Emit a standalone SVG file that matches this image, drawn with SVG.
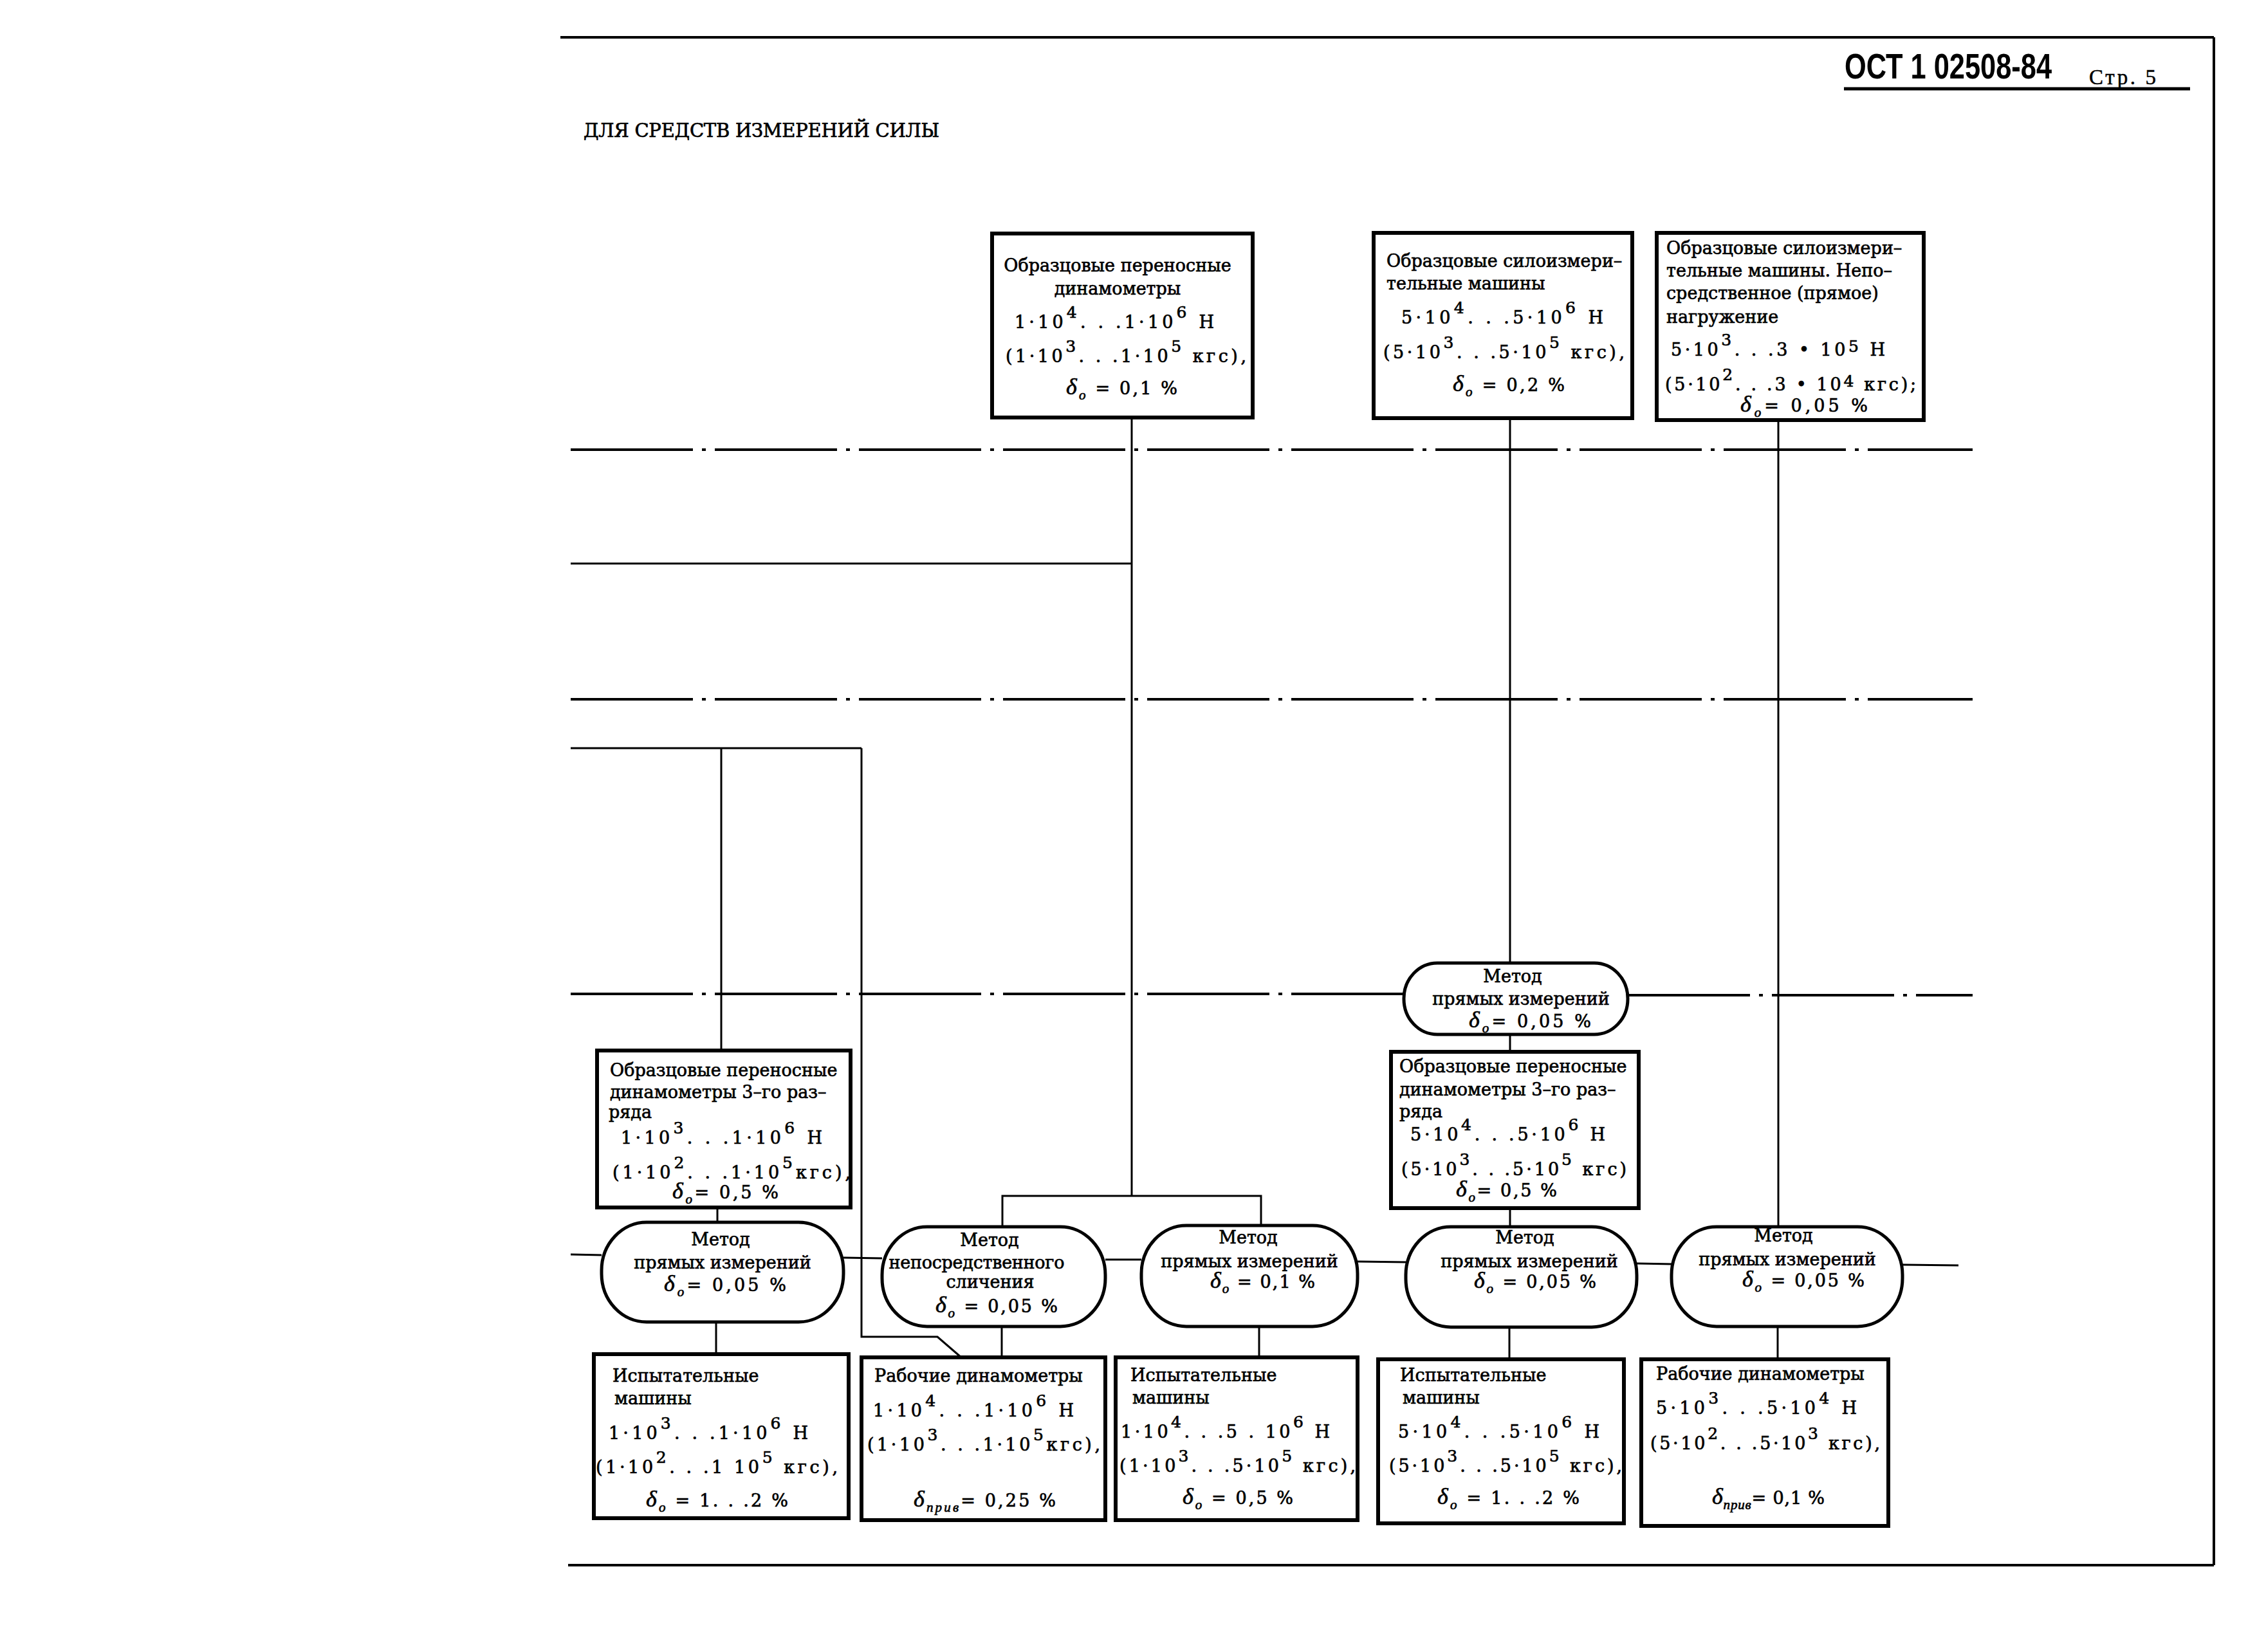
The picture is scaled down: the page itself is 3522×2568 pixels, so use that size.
<svg xmlns="http://www.w3.org/2000/svg" width="3522" height="2568" viewBox="0 0 3522 2568">
<style>
.bx{fill:#fff;stroke:#000;stroke-width:6}
.nd{fill:#fff;stroke:#000;stroke-width:5}
.ln{stroke:#000;stroke-width:3;fill:none}
.fr{stroke:#000;stroke-width:4;fill:none}
.dd{stroke:#000;stroke-width:4;fill:none;stroke-dasharray:190 14 6 14}
text{font-family:"DejaVu Serif","Liberation Serif",serif;font-size:27px;fill:#000;stroke:#000;stroke-width:0.7}
.m{text-anchor:middle}
.sp{font-size:25px}
.dl{font-family:"Liberation Serif",serif;font-style:italic;font-size:36px}
.sb{font-family:"Liberation Serif",serif;font-style:italic;font-size:21px}
</style>
<rect width="3522" height="2568" fill="#fff"/>
<g id="frame">
<line class="fr" x1="871" y1="58" x2="3441" y2="58"/>
<line class="fr" x1="3441" y1="58" x2="3441" y2="2433"/>
<line class="fr" x1="883" y1="2433" x2="3441" y2="2433"/>
<line x1="2866" y1="138" x2="3404" y2="138" stroke="#000" stroke-width="5"/>
<text transform="translate(2867,122) scale(0.775,1)" x="0" y="0" style="font-family:'Liberation Sans',sans-serif;font-weight:bold;font-size:56px;stroke-width:0">ОСТ 1 02508-84</text>
<text x="3247" y="131" style="font-family:'Liberation Serif',serif;font-size:33px;stroke-width:0.5" textLength="104">Стр. 5</text>
<text x="907" y="213" style="font-size:29px" textLength="553">ДЛЯ СРЕДСТВ ИЗМЕРЕНИЙ СИЛЫ</text>
</g>
<g id="connectors">
<line class="dd" x1="887" y1="699" x2="3066" y2="699"/>
<line class="dd" x1="887" y1="1087" x2="3066" y2="1087"/>
<line class="dd" x1="887" y1="1545" x2="2182" y2="1545"/>
<line class="dd" x1="2530" y1="1547" x2="3066" y2="1547"/>
<line class="ln" x1="1759" y1="650" x2="1759" y2="1859"/>
<line class="ln" x1="887" y1="876" x2="1759" y2="876"/>
<polyline class="ln" points="1558,1905 1558,1859 1960,1859 1960,1905"/>
<line class="ln" x1="2347" y1="652" x2="2347" y2="1497"/>
<line class="ln" x1="2347" y1="1608" x2="2347" y2="1635"/>
<line class="ln" x1="2347" y1="1878" x2="2347" y2="1907"/>
<line class="ln" x1="2764" y1="655" x2="2764" y2="1907"/>
<line class="ln" x1="887" y1="1163" x2="1339" y2="1163"/>
<line class="ln" x1="1121" y1="1163" x2="1121" y2="1633"/>
<polyline class="ln" points="1339,1163 1339,2078 1457,2078 1494,2110"/>
<line class="ln" x1="1115" y1="1878" x2="1115" y2="1900"/>
<line class="ln" x1="1113" y1="2055" x2="1113" y2="2105"/>
<line class="ln" x1="1557" y1="2062" x2="1557" y2="2110"/>
<line class="ln" x1="1957" y1="2062" x2="1957" y2="2110"/>
<line class="ln" x1="2346" y1="2063" x2="2346" y2="2113"/>
<line class="ln" x1="2763" y1="2062" x2="2763" y2="2113"/>
<line class="ln" x1="887" y1="1950" x2="935" y2="1951"/>
<line class="ln" x1="1311" y1="1955" x2="1371" y2="1956"/>
<line class="ln" x1="1718" y1="1958" x2="1774" y2="1958"/>
<line class="ln" x1="2110" y1="1961" x2="2185" y2="1962"/>
<line class="ln" x1="2544" y1="1964" x2="2598" y2="1965"/>
<line class="ln" x1="2957" y1="1966" x2="3044" y2="1967"/>
</g>
<g id="boxA">
<rect class="bx" x="1542" y="363" width="405" height="286"/>
<text class="m" x="1737" y="422">Образцовые переносные</text>
<text class="m" x="1737" y="458">динамометры</text>
<text x="1577" y="510" textLength="310">1·10<tspan class="sp" dy="-16">4</tspan><tspan dy="16">. . .1·10</tspan><tspan class="sp" dy="-16">6</tspan><tspan dy="16"> Н</tspan></text>
<text x="1563" y="563" textLength="374">(1·10<tspan class="sp" dy="-16">3</tspan><tspan dy="16">. . .1·10</tspan><tspan class="sp" dy="-16">5</tspan><tspan dy="16"> кгс),</tspan></text>
<text x="1657" y="613" textLength="173"><tspan class="dl">δ</tspan><tspan class="sb" dy="8">o</tspan><tspan dy="-8"> = 0,1 %</tspan></text>
</g>
<g id="boxD">
<rect class="bx" x="2135" y="362" width="402" height="288"/>
<text x="2155" y="415">Образцовые силоизмери–</text>
<text x="2155" y="450">тельные машины</text>
<text x="2178" y="503" textLength="314">5·10<tspan class="sp" dy="-16">4</tspan><tspan dy="16">. . .5·10</tspan><tspan class="sp" dy="-16">6</tspan><tspan dy="16"> Н</tspan></text>
<text x="2150" y="557" textLength="375">(5·10<tspan class="sp" dy="-16">3</tspan><tspan dy="16">. . .5·10</tspan><tspan class="sp" dy="-16">5</tspan><tspan dy="16"> кгс),</tspan></text>
<text x="2258" y="608" textLength="174"><tspan class="dl">δ</tspan><tspan class="sb" dy="8">o</tspan><tspan dy="-8"> = 0,2 %</tspan></text>
</g>
<g id="boxE">
<rect class="bx" x="2575" y="362" width="415" height="291"/>
<text x="2590" y="395">Образцовые силоизмери–</text>
<text x="2590" y="430">тельные машины. Непо–</text>
<text x="2590" y="465">средственное (прямое)</text>
<text x="2590" y="502">нагружение</text>
<text x="2597" y="553" textLength="333">5·10<tspan class="sp" dy="-16">3</tspan><tspan dy="16">. . .3 • 10</tspan><tspan class="sp" dy="-6">5</tspan><tspan dy="6"> Н</tspan></text>
<text x="2588" y="607" textLength="390">(5·10<tspan class="sp" dy="-16">2</tspan><tspan dy="16">. . .3 • 10</tspan><tspan class="sp" dy="-6">4</tspan><tspan dy="6"> кгс);</tspan></text>
<text x="2705" y="640" textLength="198"><tspan class="dl">δ</tspan><tspan class="sb" dy="8">o</tspan><tspan dy="-8">= 0,05 %</tspan></text>
</g>
<g id="nodeTop">
<rect class="nd" x="2182" y="1497" width="348" height="111" rx="52" ry="55"/>
<text class="m" x="2351" y="1527">Метод</text>
<text class="m" x="2364" y="1562">прямых измерений</text>
<text x="2283" y="1597" textLength="190"><tspan class="dl">δ</tspan><tspan class="sb" dy="8">o</tspan><tspan dy="-8">= 0,05 %</tspan></text>
</g>
<g id="boxB">
<rect class="bx" x="928" y="1633" width="394" height="244"/>
<text x="948" y="1673">Образцовые переносные</text>
<text x="948" y="1707">динамометры 3–го раз–</text>
<text x="946" y="1738">ряда</text>
<text x="965" y="1778" textLength="313">1·10<tspan class="sp" dy="-16">3</tspan><tspan dy="16">. . .1·10</tspan><tspan class="sp" dy="-16">6</tspan><tspan dy="16"> Н</tspan></text>
<text x="952" y="1832" textLength="370">(1·10<tspan class="sp" dy="-16">2</tspan><tspan dy="16">. . .1·10</tspan><tspan class="sp" dy="-16">5</tspan><tspan dy="16">кгс),</tspan></text>
<text x="1045" y="1863" textLength="165"><tspan class="dl">δ</tspan><tspan class="sb" dy="8">o</tspan><tspan dy="-8">= 0,5 %</tspan></text>
</g>
<g id="boxC">
<rect class="bx" x="2162" y="1635" width="385" height="243"/>
<text x="2175" y="1667">Образцовые переносные</text>
<text x="2175" y="1703">динамометры 3–го раз–</text>
<text x="2175" y="1737">ряда</text>
<text x="2192" y="1773" textLength="303">5·10<tspan class="sp" dy="-16">4</tspan><tspan dy="16">. . .5·10</tspan><tspan class="sp" dy="-16">6</tspan><tspan dy="16"> Н</tspan></text>
<text x="2178" y="1827" textLength="350">(5·10<tspan class="sp" dy="-16">3</tspan><tspan dy="16">. . .5·10</tspan><tspan class="sp" dy="-16">5</tspan><tspan dy="16"> кгс)</tspan></text>
<text x="2263" y="1860" textLength="157"><tspan class="dl">δ</tspan><tspan class="sb" dy="8">o</tspan><tspan dy="-8">= 0,5 %</tspan></text>
</g>
<g id="node1">
<rect class="nd" x="935" y="1900" width="376" height="155" rx="70" ry="75"/>
<text class="m" x="1120" y="1936">Метод</text>
<text class="m" x="1123" y="1972">прямых измерений</text>
<text x="1032" y="2007" textLength="190"><tspan class="dl">δ</tspan><tspan class="sb" dy="8">o</tspan><tspan dy="-8">= 0,05 %</tspan></text>
</g>
<g id="node2">
<rect class="nd" x="1371" y="1907" width="347" height="155" rx="70" ry="75"/>
<text class="m" x="1538" y="1937">Метод</text>
<text class="m" x="1518" y="1972" textLength="273">непосредственного</text>
<text class="m" x="1539" y="2002">сличения</text>
<text x="1454" y="2040" textLength="190"><tspan class="dl">δ</tspan><tspan class="sb" dy="8">o</tspan><tspan dy="-8"> = 0,05 %</tspan></text>
</g>
<g id="node3">
<rect class="nd" x="1774" y="1905" width="336" height="157" rx="70" ry="75"/>
<text class="m" x="1940" y="1933">Метод</text>
<text class="m" x="1942" y="1970">прямых измерений</text>
<text x="1881" y="2002" textLength="163"><tspan class="dl">δ</tspan><tspan class="sb" dy="8">o</tspan><tspan dy="-8"> = 0,1 %</tspan></text>
</g>
<g id="node4">
<rect class="nd" x="2185" y="1907" width="359" height="156" rx="70" ry="75"/>
<text class="m" x="2370" y="1933">Метод</text>
<text class="m" x="2377" y="1970">прямых измерений</text>
<text x="2291" y="2002" textLength="190"><tspan class="dl">δ</tspan><tspan class="sb" dy="8">o</tspan><tspan dy="-8"> = 0,05 %</tspan></text>
</g>
<g id="node5">
<rect class="nd" x="2598" y="1907" width="359" height="155" rx="70" ry="75"/>
<text class="m" x="2772" y="1930">Метод</text>
<text class="m" x="2778" y="1967">прямых измерений</text>
<text x="2708" y="2000" textLength="190"><tspan class="dl">δ</tspan><tspan class="sb" dy="8">o</tspan><tspan dy="-8"> = 0,05 %</tspan></text>
</g>
<g id="boxF">
<rect class="bx" x="923" y="2105" width="396" height="255"/>
<text x="952" y="2148">Испытательные</text>
<text x="955" y="2183">машины</text>
<text x="946" y="2237" textLength="310">1·10<tspan class="sp" dy="-16">3</tspan><tspan dy="16">. . .1·10</tspan><tspan class="sp" dy="-16">6</tspan><tspan dy="16"> Н</tspan></text>
<text x="926" y="2290" textLength="376">(1·10<tspan class="sp" dy="-16">2</tspan><tspan dy="16">. . .1 10</tspan><tspan class="sp" dy="-16">5</tspan><tspan dy="16"> кгс),</tspan></text>
<text x="1004" y="2342" textLength="221"><tspan class="dl">δ</tspan><tspan class="sb" dy="8">o</tspan><tspan dy="-8"> = 1. . .2 %</tspan></text>
</g>
<g id="boxG">
<rect class="bx" x="1339" y="2110" width="379" height="253"/>
<text x="1359" y="2148">Рабочие динамометры</text>
<text x="1357" y="2202" textLength="312">1·10<tspan class="sp" dy="-16">4</tspan><tspan dy="16">. . .1·10</tspan><tspan class="sp" dy="-16">6</tspan><tspan dy="16"> Н</tspan></text>
<text x="1348" y="2255" textLength="362">(1·10<tspan class="sp" dy="-16">3</tspan><tspan dy="16">. . .1·10</tspan><tspan class="sp" dy="-16">5</tspan><tspan dy="16">кгс),</tspan></text>
<text x="1420" y="2342" textLength="221"><tspan class="dl">δ</tspan><tspan class="sb" dy="8">прив</tspan><tspan dy="-8">= 0,25 %</tspan></text>
</g>
<g id="boxH">
<rect class="bx" x="1734" y="2110" width="376" height="253"/>
<text x="1757" y="2147">Испытательные</text>
<text x="1760" y="2182">машины</text>
<text x="1742" y="2235" textLength="325">1·10<tspan class="sp" dy="-16">4</tspan><tspan dy="16">. . .5 . 10</tspan><tspan class="sp" dy="-16">6</tspan><tspan dy="16"> Н</tspan></text>
<text x="1740" y="2288" textLength="367">(1·10<tspan class="sp" dy="-16">3</tspan><tspan dy="16">. . .5·10</tspan><tspan class="sp" dy="-16">5</tspan><tspan dy="16"> кгс),</tspan></text>
<text x="1838" y="2338" textLength="172"><tspan class="dl">δ</tspan><tspan class="sb" dy="8">o</tspan><tspan dy="-8"> = 0,5 %</tspan></text>
</g>
<g id="boxI">
<rect class="bx" x="2142" y="2113" width="382" height="255"/>
<text x="2176" y="2147">Испытательные</text>
<text x="2180" y="2182">машины</text>
<text x="2173" y="2235" textLength="313">5·10<tspan class="sp" dy="-16">4</tspan><tspan dy="16">. . .5·10</tspan><tspan class="sp" dy="-16">6</tspan><tspan dy="16"> Н</tspan></text>
<text x="2159" y="2288" textLength="362">(5·10<tspan class="sp" dy="-16">3</tspan><tspan dy="16">. . .5·10</tspan><tspan class="sp" dy="-16">5</tspan><tspan dy="16"> кгс),</tspan></text>
<text x="2234" y="2338" textLength="221"><tspan class="dl">δ</tspan><tspan class="sb" dy="8">o</tspan><tspan dy="-8"> = 1. . .2 %</tspan></text>
</g>
<g id="boxJ">
<rect class="bx" x="2551" y="2113" width="384" height="259"/>
<text x="2574" y="2145">Рабочие динамометры</text>
<text x="2574" y="2198" textLength="312">5·10<tspan class="sp" dy="-16">3</tspan><tspan dy="16">. . .5·10</tspan><tspan class="sp" dy="-16">4</tspan><tspan dy="16"> Н</tspan></text>
<text x="2565" y="2253" textLength="357">(5·10<tspan class="sp" dy="-16">2</tspan><tspan dy="16">. . .5·10</tspan><tspan class="sp" dy="-16">3</tspan><tspan dy="16"> кгс),</tspan></text>
<text x="2661" y="2338" textLength="175"><tspan class="dl">δ</tspan><tspan class="sb" dy="8">прив</tspan><tspan dy="-8">= 0,1 %</tspan></text>
</g>
</svg>
